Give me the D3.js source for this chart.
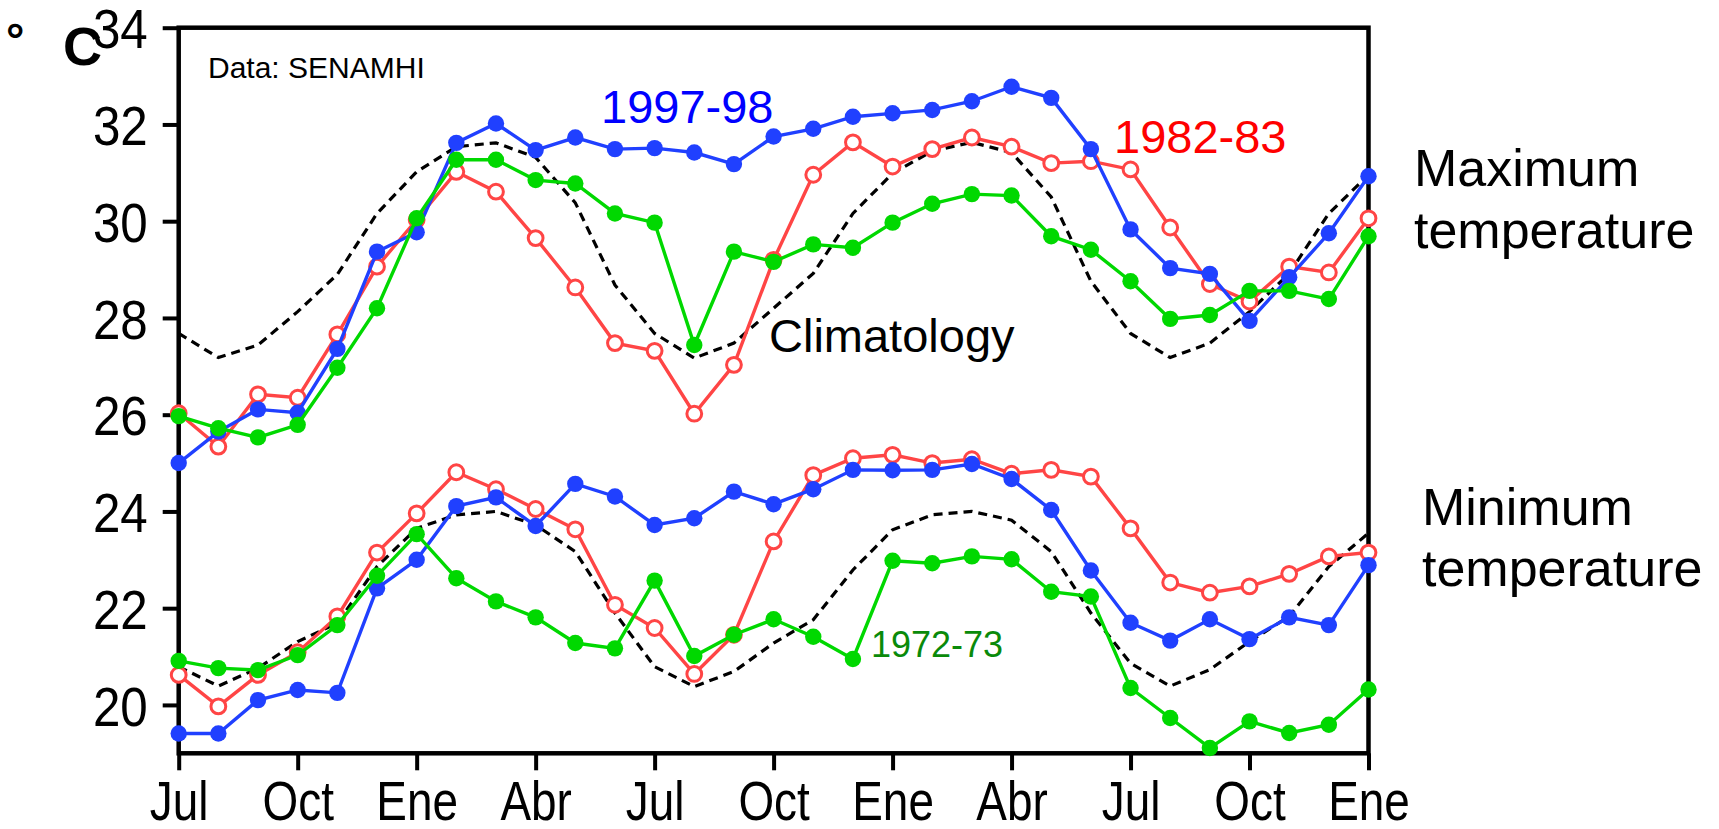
<!DOCTYPE html>
<html>
<head>
<meta charset="utf-8">
<script src="https://cdn.jsdelivr.net/npm/d3@7"></script>
<style>
  body { margin: 0; background: #fff; }
  svg { display: block; }
</style>
</head>
<body>
<script>
var svgWidth = 1719;
var svgHeight = 829;

var margin = { top: 27.7, right: 350.5, bottom: 75.7, left: 178.7 };
var chartWidth = svgWidth - margin.left - margin.right;
var chartHeight = svgHeight - margin.top - margin.bottom;

// month index 0 = Jul of first year, 30 = Ene two and a half years later
var xTickMonths = [0, 3, 6, 9, 12, 15, 18, 21, 24, 27, 30];
var xTickLabels = ["Jul", "Oct", "Ene", "Abr", "Jul", "Oct", "Ene", "Abr", "Jul", "Oct", "Ene"];
var yTicks = [20, 22, 24, 26, 28, 30, 32, 34];

// maximum temperature
var tmax1997 = [25.0, 25.65, 26.11, 26.04, 27.36, 29.37, 29.77, 31.62, 32.02, 31.47, 31.73,
  31.49, 31.51, 31.42, 31.18, 31.75, 31.91, 32.16, 32.23, 32.30, 32.48, 32.78, 32.55,
  31.49, 29.83, 29.03, 28.91, 27.94, 28.84, 29.75, 30.93];
var tmax1982 = [26.03, 25.34, 26.42, 26.35, 27.66, 29.06, 30.03, 31.02, 30.61, 29.65, 28.63,
  27.48, 27.32, 26.02, 27.03, 29.2, 30.96, 31.63, 31.13, 31.49, 31.73, 31.54, 31.2,
  31.24, 31.07, 29.87, 28.7, 28.34, 29.06, 28.94, 30.06];
var tmax1972 = [25.97, 25.72, 25.53, 25.79, 26.97, 28.2, 30.06, 31.27, 31.27, 30.85, 30.78,
  30.16, 29.97, 27.44, 29.37, 29.16, 29.52, 29.45, 29.97, 30.36, 30.56, 30.53, 29.69,
  29.41, 28.76, 27.98, 28.06, 28.56, 28.56, 28.39, 29.69];
var tmaxClim = [27.68, 27.18, 27.44, 28.13, 28.9, 30.16, 31.02, 31.54, 31.62, 31.32, 30.38,
  28.68, 27.68, 27.17, 27.48, 28.2, 28.92, 30.16, 30.99, 31.45, 31.63, 31.42, 30.5,
  28.76, 27.68, 27.18, 27.48, 28.13, 28.92, 30.16, 30.96];

// minimum temperature
var tmin1997 = [19.41, 19.41, 20.1, 20.31, 20.25, 22.41, 23.0, 24.11, 24.29, 23.7, 24.57,
  24.31, 23.72, 23.86, 24.41, 24.15, 24.46, 24.86, 24.85, 24.86, 24.98, 24.67, 24.03,
  22.78, 21.7, 21.33, 21.77, 21.36, 21.81, 21.65, 22.89];
var tmin1982 = [20.62, 19.97, 20.62, 21.09, 21.83, 23.15, 23.96, 24.81, 24.46, 24.05, 23.63,
  22.07, 21.59, 20.64, 21.45, 23.38, 24.75, 25.1, 25.17, 25.0, 25.08, 24.78, 24.86,
  24.72, 23.65, 22.53, 22.32, 22.45, 22.71, 23.07, 23.15];
var tmin1972 = [20.91, 20.76, 20.72, 21.03, 21.65, 22.67, 23.53, 22.62, 22.14, 21.81, 21.28,
  21.17, 22.57, 21.01, 21.45, 21.77, 21.41, 20.95, 22.98, 22.93, 23.07, 23.01, 22.34,
  22.24, 20.35, 19.73, 19.11, 19.66, 19.42, 19.59, 20.32];
var tminClim = [20.79, 20.39, 20.76, 21.31, 21.69, 22.86, 23.65, 23.93, 24.0, 23.72, 23.17,
  21.9, 20.79, 20.38, 20.69, 21.28, 21.76, 22.79, 23.62, 23.93, 24.0, 23.82, 23.17,
  21.9, 20.86, 20.39, 20.73, 21.31, 21.83, 22.86, 23.55];

var blue = "#2040ff";
var red = "#ff4545";
var green = "#00d800";

var svg = d3.select("body").append("svg")
  .attr("width", svgWidth)
  .attr("height", svgHeight);

var chartGroup = svg.append("g")
  .attr("transform", `translate(${margin.left}, ${margin.top})`);

var xScale = d3.scaleLinear().domain([0, 30]).range([0, chartWidth]);
var yScale = d3.scaleLinear().domain([19, 34]).range([chartHeight, 0]);

var tickFont = "'Liberation Sans', Arial, sans-serif";

// axes
var xAxis = chartGroup.append("g")
  .attr("transform", `translate(0,${chartHeight})`)
  .call(d3.axisBottom(xScale)
    .tickValues(xTickMonths)
    .tickFormat((d, i) => xTickLabels[i])
    .tickSize(17));

var yAxis = chartGroup.append("g")
  .call(d3.axisLeft(yScale)
    .tickValues(yTicks)
    .tickSize(16));

[xAxis, yAxis].forEach(ax => {
  ax.select(".domain").remove();
  ax.selectAll(".tick line").attr("stroke", "#000").attr("stroke-width", 4);
  ax.selectAll("text")
    .attr("fill", "#000")
    .style("font-family", tickFont)
    .style("font-size", "56px");
});
// the original tick font is a narrow one, so squeeze the labels
xAxis.selectAll("text")
  .attr("y", 0).attr("dy", 0)
  .attr("transform", "translate(0,67) scale(0.82,1)");
yAxis.selectAll("text")
  .attr("x", 0).attr("dy", "0.36em")
  .attr("transform", "translate(-31,0) scale(0.88,1)");

// frame
chartGroup.append("rect")
  .attr("x", 0).attr("y", 0)
  .attr("width", chartWidth).attr("height", chartHeight)
  .attr("fill", "none")
  .attr("stroke", "#000")
  .attr("stroke-width", 4.5);

var line = d3.line().x((d, i) => xScale(i)).y(d => yScale(d));

function drawClim(values) {
  chartGroup.append("path")
    .datum(values)
    .attr("d", line)
    .attr("fill", "none")
    .attr("stroke", "#000")
    .attr("stroke-width", 3.2)
    .attr("stroke-dasharray", "9,6");
}

function drawSeries(values, color, open) {
  var g = chartGroup.append("g");
  g.append("path")
    .datum(values)
    .attr("d", line)
    .attr("fill", "none")
    .attr("stroke", color)
    .attr("stroke-width", 3.4);
  g.selectAll("circle")
    .data(values)
    .enter()
    .append("circle")
    .attr("cx", (d, i) => xScale(i))
    .attr("cy", d => yScale(d))
    .attr("r", open ? 7.4 : 8.2)
    .attr("fill", open ? "#fff" : color)
    .attr("stroke", open ? color : "none")
    .attr("stroke-width", 3);
}

drawClim(tmaxClim);
drawClim(tminClim);
drawSeries(tmax1982, red, true);
drawSeries(tmin1982, red, true);
drawSeries(tmax1997, blue, false);
drawSeries(tmin1997, blue, false);
drawSeries(tmax1972, green, false);
drawSeries(tmin1972, green, false);

// labels
var labelFont = "'Liberation Sans', Arial, sans-serif";

function addText(x, y, txt, size, color, weight) {
  svg.append("text")
    .attr("x", x).attr("y", y)
    .attr("fill", color || "#000")
    .style("font-family", labelFont)
    .style("font-size", size + "px")
    .style("font-weight", weight || "normal")
    .text(txt);
}

addText(208, 78, "Data: SENAMHI", 30);
addText(601, 123, "1997-98", 47, "#0000ff");
addText(1114, 153, "1982-83", 47, "#ff0000");
addText(769, 352, "Climatology", 47);
addText(871, 657, "1972-73", 36, "#0a8a0a");
addText(1414, 186, "Maximum", 52);
addText(1414, 248, "temperature", 52);
addText(1422, 525, "Minimum", 52);
addText(1422, 586, "temperature", 52);

// unit
addText(6, 56, "°", 46, "#000", "bold");
addText(63, 65, "C", 54, "#000", "bold");
</script>
</body>
</html>
